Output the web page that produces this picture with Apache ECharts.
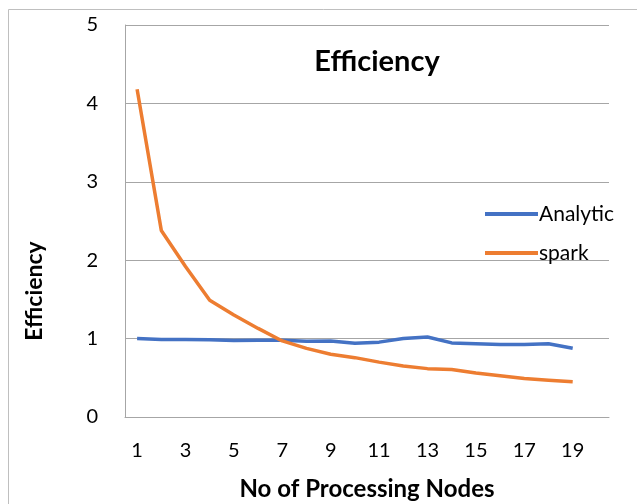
<!DOCTYPE html>
<html>
<head>
<meta charset="utf-8">
<script src="https://cdn.jsdelivr.net/npm/echarts@6/dist/echarts.min.js"></script>
<style>
html,body{margin:0;padding:0;background:#fff;}
#main{width:637px;height:504px;}
</style>
</head>
<body>
<div id="main"></div>
<script>
var categories = ['1','2','3','4','5','6','7','8','9','10','11','12','13','14','15','16','17','18','19','20'];
var analytic = [1.00, 0.99, 0.99, 0.985, 0.975, 0.98, 0.98, 0.965, 0.97, 0.94, 0.955, 1.00, 1.02, 0.945, 0.935, 0.925, 0.925, 0.935, 0.876];
var spark = [4.18, 2.38, 1.92, 1.49, 1.30, 1.13, 0.97, 0.875, 0.80, 0.757, 0.70, 0.65, 0.617, 0.605, 0.56, 0.525, 0.49, 0.47, 0.45];
var yTicks = [0, 1, 2, 3, 4, 5];

var FONT = 'Lato, "Open Sans", sans-serif';
var chart = echarts.init(document.getElementById('main'));
chart.setOption({
  animation: false,
  backgroundColor: '#fff',
  title: {
    text: 'Efficiency',
    left: 372, top: 42, textAlign: 'center',
    textStyle: {fontFamily: FONT, fontSize: 29, fontWeight: 'bold', color: '#000'}
  },
  legend: {
    orient: 'vertical',
    left: 480, top: 198,
    icon: 'rect',
    itemWidth: 53, itemHeight: 4, itemGap: 17,
    textStyle: {fontFamily: FONT, fontSize: 21, lineHeight: 22, color: '#000', padding: [0,0,0,-4]},
    data: ['Analytic', 'spark']
  },
  graphic: [
    {type: 'rect', shape: {x: 8.5, y: 9.5, width: 800, height: 700}, style: {fill: 'none', stroke: '#bfbfbf', lineWidth: 1}, z: -1, silent: true},
    {type: 'text', x: 35, y: 291, rotation: Math.PI/2,
     style: {text: 'Efficiency', fontFamily: FONT, fontSize: 23, fontWeight: 'bold', fill: '#000', align: 'center', verticalAlign: 'middle'}}
  ],
  grid: {left: 125, top: 25, right: 28, bottom: 87, outerBoundsMode: 'none', containLabel: false},
  xAxis: {
    type: 'category',
    data: categories,
    boundaryGap: true,
    name: 'No of Processing Nodes',
    nameLocation: 'middle',
    nameGap: 60,
    nameTextStyle: {fontFamily: FONT, fontSize: 24, fontWeight: 'bold', color: '#000'},
    axisTick: {show: false},
    axisLine: {lineStyle: {color: '#a6a6a6', width: 1}},
    axisLabel: {interval: 1, margin: 24, fontFamily: FONT, fontSize: 20, color: '#000'}
  },
  yAxis: {
    type: 'value',
    min: 0, max: 5, interval: 1,
    axisLine: {show: true, lineStyle: {color: '#a6a6a6', width: 1}},
    axisTick: {show: false},
    splitLine: {lineStyle: {color: '#a6a6a6', width: 1}},
    axisLabel: {margin: 27, fontFamily: FONT, fontSize: 20, color: '#000',
      formatter: function(v){ return yTicks.indexOf(v) >= 0 ? String(v) : ''; }}
  },
  series: [
    {name: 'Analytic', type: 'line', data: analytic, symbol: 'none', lineStyle: {color: '#4472C4', width: 3.5}, itemStyle: {color: '#4472C4'}},
    {name: 'spark', type: 'line', data: spark, symbol: 'none', lineStyle: {color: '#ED7D31', width: 3.5}, itemStyle: {color: '#ED7D31'}}
  ]
});
</script>
</body>
</html>
